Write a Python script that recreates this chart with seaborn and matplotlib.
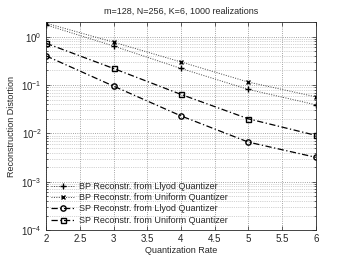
#!/usr/bin/env python3

import matplotlib
matplotlib.use('Agg')
import matplotlib.pyplot as plt
import matplotlib.ticker as mticker
import numpy as np
import pandas as pd
import seaborn as sns

# values
rates = [2, 3, 4, 5, 6]
bp_lloyd = [1.75, 0.64, 0.22, 0.081, 0.039]
bp_uniform = [1.9, 0.77, 0.30, 0.115, 0.057]
sp_lloyd = [0.40, 0.095, 0.023, 0.0066, 0.0032]
sp_uniform = [0.73, 0.22, 0.064, 0.020, 0.0091]

labels = ['BP Reconstr. from Llyod Quantizer',
          'BP Reconstr. from Uniform Quantizer',
          'SP Reconstr. from Llyod Quantizer',
          'SP Reconstr. from Uniform Quantizer']

df = pd.DataFrame({
    'rate': rates * 4,
    'dist': bp_lloyd + bp_uniform + sp_lloyd + sp_uniform,
    'method': [l for l in labels for _ in rates],
})

sns.set_style('ticks')
plt.rcParams['font.family'] = ['Liberation Sans', 'DejaVu Sans']
plt.rcParams['font.size'] = 6.5

fig = plt.figure(figsize=(3.49, 2.63), dpi=100)
ax = fig.add_axes([0.132, 0.125, 0.773, 0.791])

markers = dict(zip(labels, ['+', 'x', 'o', 's']))
dashes = dict(zip(labels, [(1, 1.5), (1, 1.5), (5, 2, 1, 2), (5, 2, 1, 2)]))
msizes = dict(zip(labels, [4.5, 3.2, 3.8, 3.6]))
widths = dict(zip(labels, [0.7, 0.7, 0.9, 0.9]))
lcolors = dict(zip(labels, ['#444444', '#444444', 'black', 'black']))

# one call per series so line-art and filled markers can coexist
for lab in labels:
    sub = df[df['method'] == lab]
    sns.lineplot(data=sub, x='rate', y='dist', style='method',
                 markers={lab: markers[lab]}, dashes={lab: dashes[lab]},
                 color=lcolors[lab], lw=widths[lab], markersize=msizes[lab],
                 mfc='none', mec='black', mew=1.0, ax=ax)

ax.set_yscale('log')
ax.set_xlim(2, 6)
ax.set_ylim(1e-4, 2)
ax.set_xticks(np.arange(2, 6.01, 0.5))
ax.xaxis.set_major_formatter(mticker.FormatStrFormatter('%g'))
ax.yaxis.set_major_locator(mticker.LogLocator(base=10, numticks=10))
ax.yaxis.set_minor_locator(mticker.LogLocator(base=10, subs=np.arange(2, 10), numticks=20))
ax.yaxis.set_minor_formatter(mticker.NullFormatter())

ax.grid(True, which='major', linestyle=':', linewidth=0.6, color='#888888')
ax.grid(True, which='minor', axis='y', linestyle=':', linewidth=0.5, color='#aaaaaa')
ax.tick_params(which='both', direction='in', top=True, right=True, labelsize=7,
               width=0.5, pad=3)
ax.tick_params(which='major', length=3)
ax.tick_params(which='minor', length=1.5)
for s in ax.spines.values():
    s.set_linewidth(0.6)

ax.set_title('m=128, N=256, K=6, 1000 realizations', fontsize=6.5, pad=6)
ax.set_xlabel('Quantization Rate', fontsize=6.5, labelpad=1)
ax.set_ylabel('Reconstruction Distortion', fontsize=6.5, labelpad=4)

handles, labs = ax.get_legend_handles_labels()
ax.legend(handles[:4], labs[:4], loc='lower left', frameon=False, fontsize=6.5,
          handlelength=2.6, labelspacing=0.25, borderaxespad=0.2, handletextpad=0.4)

fig.savefig('out.png', dpi=100)
